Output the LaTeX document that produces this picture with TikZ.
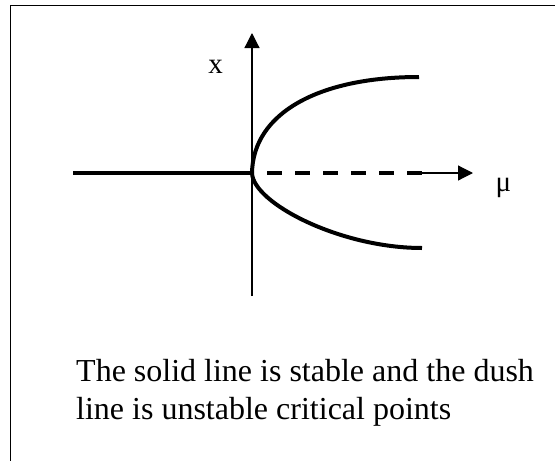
\documentclass[tikz,border=0pt]{standalone}
\usepackage{fontspec}
\setmainfont{Liberation Serif}
\usetikzlibrary{arrows.meta}
\tikzset{
  axisline/.style={line width=1.2pt, -{Triangle[length=15pt,width=15pt]}},
  heavy/.style={line width=4pt},
  frameline/.style={line width=1.6pt},
  lbl/.style={inner sep=0pt, font=\fontsize{29}{34}\selectfont},
  caption/.style={inner sep=0pt, anchor=base west, font=\fontsize{32}{38}\selectfont}
}
\begin{document}
\begin{tikzpicture}[x=1pt,y=-1pt]
\useasboundingbox (0,0) rectangle (555,461);
\draw[frameline] (10.5,5.5) rectangle (600,500);
\coordinate (O) at (252,173);
\coordinate (ytop) at (252,33);
\coordinate (ybot) at (252,296);
\coordinate (xleft) at (73,173);
\coordinate (dashS) at (267,173);
\coordinate (dashE) at (422,173);
\coordinate (thinS) at (418,173);
\coordinate (xtip) at (473,173);
\coordinate (up) at (419,77);
\coordinate (lo) at (422,248);
\draw[axisline] (ybot) -- (ytop);
\draw[heavy] (xleft) -- (O);
\draw[heavy, dash pattern=on 15pt off 13pt] (dashS) -- (dashE);
\draw[axisline] (thinS) -- (xtip);
\draw[heavy] (O) .. controls (253,113) and (319,77) .. (up);
\draw[heavy] (O) .. controls (253,203) and (340,248) .. (lo);
\node[lbl] (xl) at (215.5,67) {x};
\node[lbl] (mul) at (503.5,188) {μ};
\node[caption] (t1) at (76,381) {The solid line is stable and the dush};
\node[caption] (t2) at (76,419) {line is unstable critical points};
\end{tikzpicture}
\end{document}
